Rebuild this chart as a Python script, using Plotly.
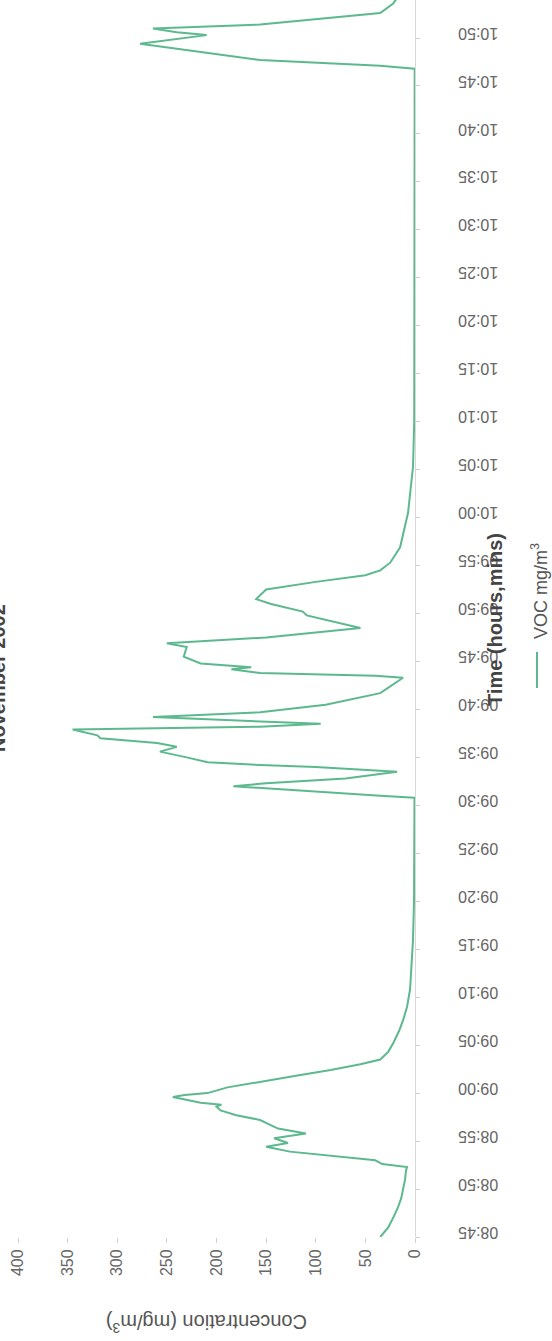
import plotly.graph_objects as go

# ---- data ----
times = [
    "08:45:00", "08:45:30", "08:46:00", "08:47:00", "08:48:00", "08:49:00", "08:50:00",
    "08:51:00", "08:52:00", "08:52:18", "08:52:36", "08:53:00", "08:53:54", "08:54:24",
    "08:54:48", "08:55:18", "08:55:48", "08:56:18", "08:56:48", "08:57:12", "08:57:42",
    "08:58:12", "08:58:36", "08:58:48", "08:59:00", "08:59:18", "08:59:36", "08:59:48",
    "09:00:00", "09:00:36", "09:01:12", "09:01:48", "09:02:24", "09:03:00", "09:03:30",
    "09:04:18", "09:05:12", "09:06:30", "09:07:36", "09:09:00", "09:10:48", "09:13:00",
    "09:16:00", "09:20:00", "09:25:00", "09:30:48", "09:31:00", "09:31:30", "09:32:00",
    "09:32:18", "09:32:48", "09:33:30", "09:34:00", "09:34:12", "09:34:30", "09:35:00",
    "09:35:36", "09:36:06", "09:36:30", "09:37:00", "09:37:18", "09:37:54", "09:38:12",
    "09:38:30", "09:39:12", "09:39:42", "09:40:30", "09:41:42", "09:43:18", "09:43:30",
    "09:43:48", "09:44:12", "09:44:24", "09:44:48", "09:45:30", "09:46:30", "09:46:54",
    "09:47:30", "09:48:30", "09:49:48", "09:50:12", "09:51:00", "09:51:30", "09:52:30",
    "09:53:18", "09:54:00", "09:54:30", "09:55:18", "09:56:54", "10:00:30", "10:05:18",
    "10:10:00", "10:20:00", "10:35:00", "10:46:48", "10:47:06", "10:47:42", "10:49:24",
    "10:50:00", "10:50:18", "10:50:36", "10:51:00", "10:51:24", "10:52:36", "10:53:36",
    "10:54:12",
]
voc = [
    35, 31, 27, 22, 17.5, 14, 12,
    10, 9, 8, 33, 40, 126, 150,
    128, 142, 110, 138, 148, 156, 180,
    196, 200, 195, 216, 230, 244, 232,
    209, 189, 156, 120, 85, 55, 35,
    27, 22, 16, 12, 8, 5, 3.5,
    2, 1, 0.5, 0.5, 35, 110, 183,
    150, 70, 18, 100, 156, 209, 230,
    257, 240, 260, 317, 320, 345, 156,
    95, 264, 156, 90, 35, 12, 40,
    156, 185, 165, 216, 233, 230, 250,
    150, 55, 109, 113, 145, 160, 150,
    100, 50, 35, 25, 15, 7, 2,
    0.8, 0.5, 0.3, 0.3, 35, 156, 277,
    230, 210, 240, 264, 156, 35, 22,
    18,
]
time_ticks = ["08:45", "08:50", "08:55", "09:00", "09:05", "09:10", "09:15", "09:20",
              "09:25", "09:30", "09:35", "09:40", "09:45", "09:50", "09:55", "10:00",
              "10:05", "10:10", "10:15", "10:20", "10:25", "10:30", "10:35", "10:40",
              "10:45", "10:50"]
conc_ticks = [0, 50, 100, 150, 200, 250, 300, 350, 400]

title_text = "November 2002"
series_name = "VOC mg/m<sup>3</sup>"
x_title = "Concentration (mg/m<sup>3</sup>)"
y_title = "Time (hours,mins)"


def to_min(s):
    p = s.split(":")
    sec = float(p[2]) if len(p) > 2 else 0.0
    return int(p[0]) * 60 + int(p[1]) + sec / 60.0


t_min = [to_min(s) for s in times]
tick_vals = [to_min(s) for s in time_ticks]

W, H = 552, 1341
L, R, T, B = 18, 137, 0, 104
PW, PH = W - L - R, H - T - B

def px(xp):
    return (xp - L) / PW

def py(yp):
    return (H - B - yp) / PH

FONT = "Liberation Sans, Arial, sans-serif"
LINE = "#5cb98d"

fig = go.Figure()
fig.add_trace(go.Scatter(
    x=voc, y=t_min, mode="lines", name=series_name,
    line=dict(color=LINE, width=2), showlegend=False,
))

y0 = to_min("08:45")
fig.update_layout(
    width=W, height=H,
    margin=dict(l=L, r=R, t=T, b=B, pad=0, autoexpand=False),
    paper_bgcolor="white", plot_bgcolor="white",
    font=dict(family=FONT, color="#555555"),
    xaxis=dict(
        range=[400, 0], tickvals=conc_ticks, ticktext=[str(v) for v in conc_ticks],
        tickangle=-90, tickfont=dict(size=16, color="#666666"),
        ticks="outside", ticklen=5, tickcolor="#d0d0d0",
        showgrid=False, zeroline=False, showline=False, automargin=False,
    ),
    yaxis=dict(
        range=[y0, y0 + PH / 9.592], side="right",
        tickvals=tick_vals, ticktext=time_ticks,
        tickangle=180, tickfont=dict(size=16, color="#666666"),
        ticks="outside", ticklen=4, tickcolor="#d0d0d0",
        ticklabelstandoff=75,
        showline=True, linecolor="#d8d8d8", linewidth=1,
        showgrid=False, zeroline=False, automargin=False,
    ),
)

ann = [
    dict(text=x_title, x=px(207), y=py(1324), textangle=180,
         font=dict(size=20, color="#555555", family=FONT)),
    dict(text="<b>" + y_title + "</b>", x=px(495), y=py(620), textangle=-90,
         font=dict(size=20, color="#444444", family=FONT)),
    dict(text=series_name, x=px(539), y=py(591), textangle=-90,
         font=dict(size=18, color="#555555", family=FONT)),
    dict(text="<b>" + title_text + "</b>", x=px(-2), y=py(678), textangle=-90,
         font=dict(size=20, color="#444444", family=FONT)),
]
for a in ann:
    a.update(xref="paper", yref="paper", showarrow=False,
             xanchor="center", yanchor="middle")
fig.update_layout(annotations=ann)

fig.add_shape(type="line", xref="paper", yref="paper", layer="above",
              x0=px(537), x1=px(537), y0=py(652), y1=py(688),
              line=dict(color=LINE, width=2))

fig.write_html(
    "out.html",
    config={"displayModeBar": False},
    post_script="document.body.style.margin='0';document.body.style.padding='0';",
)
